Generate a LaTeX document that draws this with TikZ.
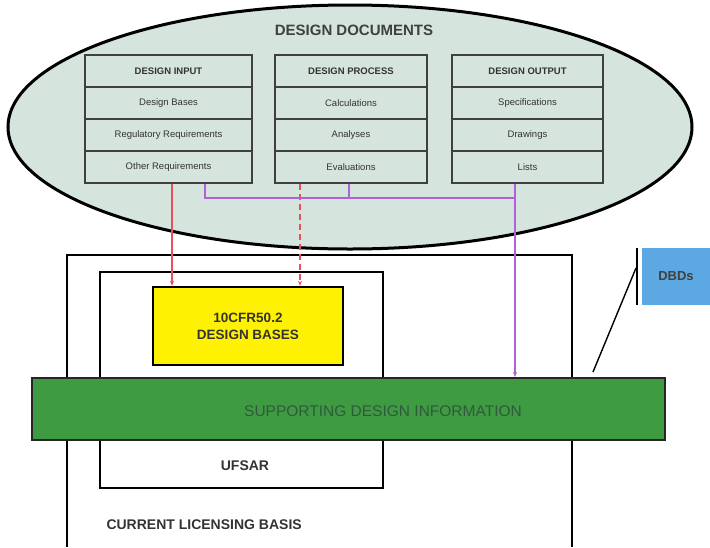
\documentclass[tikz,border=0pt]{standalone}
\usepackage{fontspec}
\setmainfont{Liberation Sans}
\usetikzlibrary{arrows.meta,shapes.geometric}
\definecolor{ellfill}{HTML}{D5E5DD}
\definecolor{barfill}{HTML}{3F9B42}
\definecolor{bartext}{HTML}{2F5A3C}
\definecolor{dbdblue}{HTML}{5BA8E2}
\definecolor{celltext}{HTML}{333333}
\definecolor{redline}{HTML}{E8505A}
\definecolor{purpline}{HTML}{B060D8}
\tikzset{
  cell/.style={draw=black!75, line width=1.6pt, minimum height=32pt, inner sep=0pt, font=\fontsize{9.5}{10}\selectfont, text=celltext},
  headcell/.style={cell, font=\fontsize{9.5}{10}\selectfont\bfseries},
  frame/.style={draw=black, line width=2.4pt},
  redc/.style={draw=redline, line width=1.3pt},
  purc/.style={draw=purpline, line width=1.3pt},
  bigtext/.style={font=\fontsize{13}{15}\selectfont\bfseries, text=black!80}
}
\begin{document}
\begin{tikzpicture}[x=1pt,y=-1pt]
\useasboundingbox (0,0) rectangle (710,547);
% ellipse
\node[ellipse, draw=black, line width=3pt, fill=ellfill, minimum width=684pt, minimum height=244pt, inner sep=0pt] (docs) at (350,127) {};
\node[bigtext, font=\fontsize{15}{17}\selectfont\bfseries, text=black!75] (title) at (354,30) {DESIGN DOCUMENTS};
% input column
\node[headcell, minimum width=167pt] (in1) at (168.5,71) {DESIGN INPUT};
\node[cell, minimum width=167pt] (in2) at (168.5,103) {Design Bases};
\node[cell, minimum width=167pt] (in3) at (168.5,135) {Regulatory Requirements};
\node[cell, minimum width=167pt] (in4) at (168.5,167) {Other Requirements};
% process column
\node[headcell, minimum width=152pt] (pr1) at (351,71) {DESIGN PROCESS};
\node[cell, minimum width=152pt] (pr2) at (351,103) {Calculations};
\node[cell, minimum width=152pt] (pr3) at (351,135) {Analyses};
\node[cell, minimum width=152pt] (pr4) at (351,167) {Evaluations};
% output column
\node[headcell, minimum width=151pt] (ou1) at (527.5,71) {DESIGN OUTPUT};
\node[cell, minimum width=151pt] (ou2) at (527.5,103) {Specifications};
\node[cell, minimum width=151pt] (ou3) at (527.5,135) {Drawings};
\node[cell, minimum width=151pt] (ou4) at (527.5,167) {Lists};
% outer CLB frame (open at bottom)
\coordinate (clbBL) at (67,547);
\coordinate (clbTL) at (67,255);
\coordinate (clbTR) at (572,255);
\coordinate (clbBR) at (572,547);
\draw[frame] (clbBL) -- (clbTL) -- (clbTR) -- (clbBR);
\node[bigtext, anchor=west, font=\fontsize{14}{16}\selectfont\bfseries, text=black!80] (clb) at (103,525) {CURRENT LICENSING BASIS};
% UFSAR frame
\node[frame, fill=white, minimum width=283pt, minimum height=216pt, inner sep=0pt] (ufsarbox) at (241.5,380) {};
\node[bigtext, font=\fontsize{14}{16}\selectfont\bfseries] (ufsar) at (245,466) {UFSAR};
% yellow box
\node[frame, fill=yellow, minimum width=190pt, minimum height=78pt, inner sep=0pt, align=center, font=\fontsize{13.5}{17}\selectfont\bfseries, text=black!80] (cfr) at (248,326) {10CFR50.2\\DESIGN BASES};
% green bar
\node[draw=black!85, line width=2pt, fill=barfill, minimum width=633pt, minimum height=62pt, inner sep=0pt] (sdi) at (348.5,409) {};
\node[font=\fontsize{15.5}{17}\selectfont, text=bartext] (sditext) at (383,411) {SUPPORTING DESIGN INFORMATION};
% DBDs
\node[fill=dbdblue, minimum width=68pt, minimum height=57pt, inner sep=0pt, font=\fontsize{13}{15}\selectfont\bfseries, text=black!75] (dbd) at (676,276.5) {DBDs};
\coordinate (bracketT) at (637,248);
\coordinate (bracketB) at (637,305);
\draw[black, line width=1.4pt] (bracketT) -- (bracketB);
\coordinate (diagA) at (636,268);
\coordinate (diagB) at (593,372);
\draw[black, line width=1.4pt] (diagA) -- (diagB);
% red connectors
\draw[redc, -{Stealth[length=5pt,width=4pt]}] (in4.south -| 172,0) -- (cfr.north -| 172,0);
\draw[redc, dashed, dash pattern=on 6pt off 4pt, -{Stealth[length=5pt,width=4pt]}] (pr4.south -| 300,0) -- (cfr.north -| 300,0);
% purple connectors
\coordinate (pj1) at (205,198);
\coordinate (pj2) at (349,198);
\coordinate (pj3) at (515,198);
\draw[purc] (in4.south -| pj1) -- (pj1) -- (pj3);
\draw[purc] (pr4.south -| pj2) -- (pj2);
\draw[purc, -{Stealth[length=5pt,width=4pt]}] (ou4.south -| pj3) -- (sdi.north -| pj3);
\end{tikzpicture}
\end{document}
